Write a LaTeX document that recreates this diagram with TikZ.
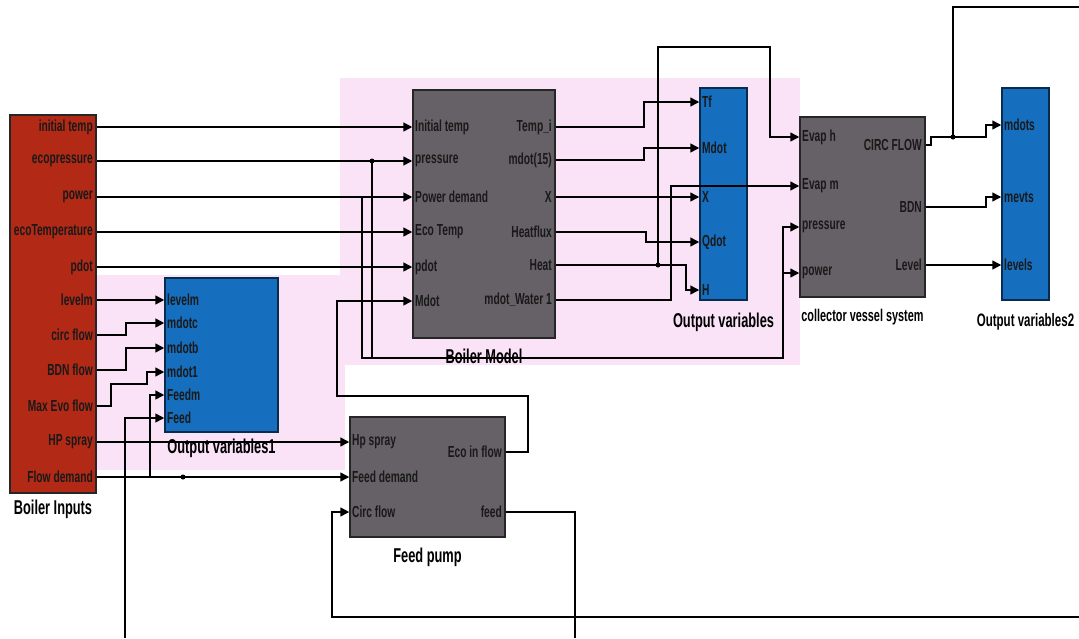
\documentclass[tikz,border=0pt]{standalone}
\usepackage{fontspec}
\newfontfamily\simfont{Liberation Sans}[FakeStretch=0.64]
\usetikzlibrary{arrows.meta, positioning}
\definecolor{inred}{RGB}{178,42,22}
\definecolor{outblue}{RGB}{22,110,190}
\definecolor{subgray}{RGB}{102,97,102}
\definecolor{glow}{RGB}{250,226,247}

\begin{document}
\begin{tikzpicture}[x=1pt, y=-1pt,
  blk/.style={draw=black!85, line width=1.5pt, inner sep=0pt},
  redblk/.style={blk, fill=inred},
  blueblk/.style={blk, fill=outblue, draw=black!60!outblue},
  grayblk/.style={blk, fill=subgray},
  port/.style={font=\simfont\bfseries\fontsize{16}{16}\selectfont, text=black!90, inner sep=1pt},
  title/.style={font=\simfont\bfseries\fontsize{20}{20}\selectfont, inner sep=0pt},
  net/.style={line width=1.5pt},
  wire/.style={net, -{Triangle[length=9pt,width=9pt]}},
  junc/.style={circle, fill=black, inner sep=0pt, minimum size=5pt},
]
\useasboundingbox (0,0) rectangle (1079,638);
\fill[glow] (97,275) rectangle (345,470);
\fill[glow] (340,78) rectangle (800,365);

\node[redblk, minimum width=86pt, minimum height=378pt] (inputs) at (53,304) {};
\node[blueblk, minimum width=113pt, minimum height=154pt] (outA) at (221.5,355) {};
\node[grayblk, minimum width=142pt, minimum height=248pt] (model) at (484,214) {};
\node[blueblk, minimum width=47pt, minimum height=212pt] (outB) at (723.5,194) {};
\node[grayblk, minimum width=125pt, minimum height=180pt] (vessel) at (862.5,207) {};
\node[blueblk, minimum width=47pt, minimum height=212pt] (outC) at (1025.5,194) {};
\node[grayblk, minimum width=155pt, minimum height=120pt] (pump) at (427.5,477) {};

\node[title, below=6pt of inputs] {Boiler Inputs};
\node[title, below=6pt of outA] {Output variables1};
\node[title, below=10pt of model] {Boiler Model};
\node[title, below=12pt of outB] {Output variables};
\node[title, font=\simfont\bfseries\fontsize{17}{17}\selectfont, below=11pt of vessel] {collector vessel system};
\node[title, font=\simfont\bfseries\fontsize{18}{18}\selectfont, below=12pt of outC] {Output variables2};
\node[title, below=10pt of pump] {Feed pump};

\foreach \y/\t [count=\i] in {127/initial temp, 161/ecopressure, 197/power, 232/ecoTemperature,
    267/pdot, 300/levelm, 335/circ flow, 370/BDN flow, 406/Max Evo flow, 442/HP spray, 477/Flow demand}
  \node[port, anchor=east] (bi\i) at (94,\y) {\t};
\foreach \y/\t [count=\i] in {300/levelm, 323/mdotc, 348/mdotb, 372/mdot1, 395/Feedm, 418/Feed}
  \node[port, anchor=west] (oa\i) at (166,\y) {\t};
\foreach \y/\t [count=\i] in {127/Initial temp, 161/pressure, 197/Power demand, 232/Eco Temp, 267/pdot, 301/Mdot}
  \node[port, anchor=west] (bmi\i) at (414,\y) {\t};
\foreach \y/\t [count=\i] in {127/Temp\_i, 160/{mdot(15)}, 197/X, 232/Heatflux, 265/Heat, 300/mdot\_Water 1}
  \node[port, anchor=east] (bmo\i) at (553,\y) {\t};
\foreach \y/\t [count=\i] in {102/Tf, 148/Mdot, 197/X, 242/Qdot, 290/H}
  \node[port, anchor=west] (ob\i) at (701,\y) {\t};
\foreach \y/\t [count=\i] in {137/Evap h, 186/Evap m, 227/pressure, 273/power}
  \node[port, anchor=west] (cvi\i) at (801,\y) {\t};
\foreach \y/\t [count=\i] in {145/CIRC FLOW, 207/BDN, 265/Level}
  \node[port, anchor=east] (cvo\i) at (923,\y) {\t};
\foreach \y/\t [count=\i] in {125/mdots, 197/mevts, 265/levels}
  \node[port, anchor=west] (oc\i) at (1003,\y) {\t};
\foreach \y/\t [count=\i] in {442/Hp spray, 477/Feed demand, 512/Circ flow}
  \node[port, anchor=west] (fpi\i) at (351,\y) {\t};
\foreach \y/\t [count=\i] in {452/Eco in flow, 512/feed}
  \node[port, anchor=east] (fpo\i) at (503,\y) {\t};

\coordinate (j1) at (372,161);
\coordinate (j2) at (362,197);
\coordinate (j3) at (658,265);
\coordinate (j4) at (183,477);
\coordinate (j5) at (953,137);
\coordinate (tapF) at (150,477);
\coordinate (rt) at (783,358);
\coordinate (feedB) at (125,638);
\coordinate (feedC) at (575,638);
\coordinate (circR) at (1079,617);
\coordinate (circT) at (1079,7);

\foreach \i in {1,...,5}
  \draw[wire] (bi\i.east -| inputs.east) -- (bmi\i.west -| model.west);
\draw[wire] (bi6.east -| inputs.east) -- (oa1.west -| outA.west);
\draw[wire] (bi7.east -| inputs.east) -- ++(29,0) |- (oa2.west -| outA.west);
\draw[wire] (bi8.east -| inputs.east) -- ++(29,0) |- (oa3.west -| outA.west);
\draw[wire] (bi9.east -| inputs.east) -- ++(14,0) |- ++(36,-22) |- (oa4.west -| outA.west);
\draw[wire] (bi10.east -| inputs.east) -- (fpi1.west -| pump.west);
\draw[wire] (bi11.east -| inputs.east) -- (fpi2.west -| pump.west);
\draw[wire] (tapF) |- (oa5.west -| outA.west);
\draw[wire] (feedB) |- (oa6.west -| outA.west);

\draw[wire] (j1) |- (rt) |- (cvi3.west -| vessel.west);
\draw[wire] (j2) |- (rt) |- (cvi4.west -| vessel.west);
\draw[wire] (fpo1.east -| pump.east) -| (528,396) -| (337,301) -- (bmi6.west -| model.west);

\draw[wire] (bmo1.east -| model.east) -- ++(88,0) |- (ob1.west -| outB.west);
\draw[wire] (bmo2.east -| model.east) -- ++(88,0) |- (ob2.west -| outB.west);
\draw[wire] (bmo3.east -| model.east) -- (ob3.west -| outB.west);
\draw[wire] (bmo4.east -| model.east) -- ++(90,0) |- (ob4.west -| outB.west);
\draw[wire] (bmo5.east -| model.east) -- ++(130,0) |- (ob5.west -| outB.west);
\draw[wire] (j3) |- (770,47) |- (cvi1.west -| vessel.west);
\draw[wire] (bmo6.east -| model.east) -- ++(115,0) |- (cvi2.west -| vessel.west);

\draw[wire] (cvo1.east -| vessel.east) -- ++(5,0) |- ++(55,-8) |- (oc1.west -| outC.west);
\draw[net] (j5) |- (circT);
\draw[wire] (cvo2.east -| vessel.east) -- ++(60,0) |- (oc2.west -| outC.west);
\draw[wire] (cvo3.east -| vessel.east) -- (oc3.west -| outC.west);

\draw[net] (fpo2.east -| pump.east) -| (feedC);
\draw[wire] (circR) -- (332,617) |- (fpi3.west -| pump.west);

\foreach \j in {j1,j3,j4,j5}
  \node[junc] at (\j) {};

\end{tikzpicture}
\end{document}
